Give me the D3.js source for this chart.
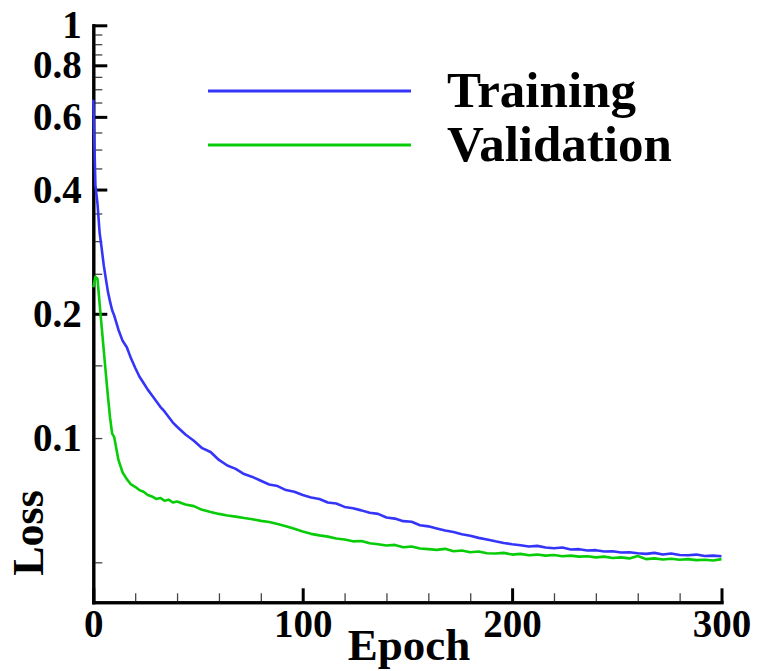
<!DOCTYPE html>
<html>
<head>
<meta charset="utf-8">
<script src="https://cdn.jsdelivr.net/npm/d3@7"></script>
<style>
  html, body { margin: 0; padding: 0; background: #fff; }
  svg { display: block; }
  text { font-family: "Liberation Serif", "Times New Roman", serif; font-weight: bold; fill: #000; }
</style>
</head>
<body>
<svg width="762" height="671"></svg>
<script>
const epochs = [0,1,2,3,4,5,6,7,8,9,10,12,14,16,18,20,22,24,26,28,30,32,34,36,38,40,
  44,48,52,56,60,64,68,72,76,80,84,88,92,96,100,104,108,112,116,120,124,128,132,136,
  140,144,148,152,156,160,164,168,172,176,180,184,188,192,196,200,204,208,212,216,220,
  224,228,232,236,240,244,248,252,256,260,264,268,272,276,280,284,288,292,296,300]

const training = [0.66,0.41,0.37,0.315,0.288,0.262,0.243,0.226,0.214,0.204,0.198,0.183,0.172,0.166,0.156,0.148,0.141,0.136,0.131,0.127,0.123,0.119,0.116,0.1125,0.109,0.1065,
  0.102,0.0985,0.0945,0.0925,0.0885,0.0858,0.0842,0.0818,0.0805,0.0788,0.0772,0.0765,0.0748,0.0741,0.0728,0.0718,0.0712,0.0698,0.0694,0.0681,0.0676,0.0668,0.0659,0.0655,
  0.0642,0.0638,0.0629,0.0627,0.0615,0.0611,0.0604,0.0597,0.0592,0.0585,0.0580,0.0573,0.0568,0.0562,0.0557,0.0553,0.0550,0.0546,0.0548,0.0543,0.0541,
  0.0543,0.0537,0.0538,0.0534,0.0535,0.0531,0.0532,0.0528,0.0529,0.0526,0.0524,0.0527,0.0522,0.0525,0.0521,0.0520,0.0522,0.0518,0.0519,0.0517]

const validation = [0.232,0.246,0.243,0.212,0.186,0.163,0.143,0.126,0.112,0.1025,0.1005,0.0885,0.0825,0.0795,0.0772,0.0762,0.0748,0.0741,0.0728,0.0722,0.0712,0.0716,0.0705,0.0709,0.0698,0.0702,
  0.0690,0.0684,0.0670,0.0662,0.0655,0.0649,0.0645,0.0640,0.0636,0.0630,0.0626,0.0619,0.0611,0.0603,0.0594,0.0586,0.0581,0.0577,0.0571,0.0568,0.0562,0.0563,0.0556,0.0553,
  0.0549,0.0551,0.0544,0.0546,0.0540,0.0538,0.0536,0.0539,0.0532,0.0534,0.0529,0.0531,0.0526,0.0525,0.0527,0.0522,0.0524,0.0520,0.0522,0.0519,0.0521,
  0.0517,0.0519,0.0516,0.0517,0.0514,0.0516,0.0512,0.0514,0.0511,0.0518,0.0509,0.0511,0.0508,0.0510,0.0507,0.0509,0.0506,0.0507,0.0505,0.0509]

const seriesNames = ["Training", "Validation"]
const seriesColors = ["#3535fa", "#08cc08"]

const xMajor = [0, 100, 200, 300]
const xMinor = [20, 40, 60, 80, 120, 140, 160, 180, 220, 240, 260, 280]
const yMajor = [0.2, 0.4, 0.6, 0.8, 1]
const yMinor = [0.05, 0.1, 0.15, 0.25, 0.3, 0.35, 0.45, 0.5, 0.55, 0.65, 0.7, 0.75, 0.85, 0.9, 0.95]
const yLabelled = [0.1, 0.2, 0.4, 0.6, 0.8, 1]

const svg = d3.select("svg")

const x = d3.scaleLinear().domain([0, 300]).range([93.3, 721.5])
const y = d3.scaleLog().domain([0.04, 1]).range([602.3, 25.3])

const fmt = d => yLabelled.includes(d) ? String(d) : ""

// y axis: ticks point inward
const yMinorAxis = svg.append("g")
  .attr("transform", "translate(93.3,0)")
  .call(d3.axisLeft(y).tickValues(yMinor).tickSizeInner(-9).tickSizeOuter(0).tickPadding(11.5).tickFormat(fmt))
yMinorAxis.selectAll(".tick line").attr("stroke", "#444").attr("stroke-width", 1.3)

const yMajorAxis = svg.append("g")
  .attr("transform", "translate(93.3,0)")
  .call(d3.axisLeft(y).tickValues(yMajor).tickSizeInner(-14).tickSizeOuter(0).tickPadding(11.5).tickFormat(fmt))
yMajorAxis.selectAll(".tick line").attr("stroke", "#000").attr("stroke-width", 3)

// x axis
const xMinorAxis = svg.append("g")
  .attr("transform", "translate(0,602.3)")
  .call(d3.axisBottom(x).tickValues(xMinor).tickSizeInner(-9).tickSizeOuter(0).tickFormat(""))
xMinorAxis.selectAll(".tick line").attr("stroke", "#444").attr("stroke-width", 1.3)

const xMajorAxis = svg.append("g")
  .attr("transform", "translate(0,602.3)")
  .call(d3.axisBottom(x).tickValues(xMajor).tickSizeInner(-14).tickSizeOuter(0).tickPadding(7).tickFormat(d3.format("d")))
xMajorAxis.selectAll(".tick line").attr("stroke", "#000").attr("stroke-width", 3)

svg.selectAll(".domain").attr("stroke", "#000").attr("stroke-width", 3).attr("stroke-linecap", "square")
svg.selectAll(".tick text")
  .attr("font-family", "'Liberation Serif', serif")
  .attr("font-weight", "bold")
  .attr("font-size", 39)
  .attr("fill", "#000")

// curves, drawn over the axes
const line = d3.line()
  .x((d, i) => x(epochs[i]))
  .y(d => y(d))

const curves = [training, validation]
curves.forEach((vals, k) => {
  svg.append("path")
    .datum(vals)
    .attr("d", line)
    .attr("fill", "none")
    .attr("stroke", seriesColors[k])
    .attr("stroke-width", 2.6)
    .attr("stroke-linejoin", "round")
})

// axis titles
svg.append("text")
  .attr("x", 409).attr("y", 660)
  .attr("text-anchor", "middle")
  .attr("font-size", 45)
  .text("Epoch")

svg.append("text")
  .attr("transform", "translate(43,533) rotate(-90)")
  .attr("text-anchor", "middle")
  .attr("font-size", 44)
  .text("Loss")

// legend
const legendY = [91, 145]
const legend = svg.append("g")
seriesNames.forEach((name, k) => {
  legend.append("line")
    .attr("x1", 208).attr("x2", 411)
    .attr("y1", legendY[k]).attr("y2", legendY[k])
    .attr("stroke", seriesColors[k])
    .attr("stroke-width", 3)
  legend.append("text")
    .attr("x", 447).attr("y", legendY[k] + 16)
    .attr("font-size", 51)
    .text(name)
})
</script>
</body>
</html>
